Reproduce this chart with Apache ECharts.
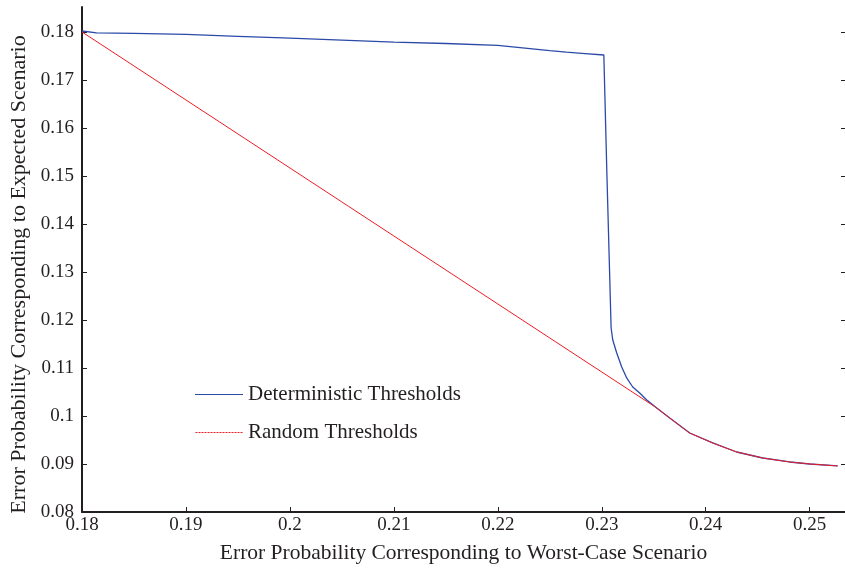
<!DOCTYPE html>
<html>
<head>
<meta charset="utf-8">
<script src="https://cdn.jsdelivr.net/npm/echarts@6/dist/echarts.min.js"></script>
<style>html,body{margin:0;padding:0;background:#fff}#c{width:845px;height:568px}</style>
</head>
<body>
<div id="c"></div>
<script>
var xTicks = [0.18, 0.19, 0.2, 0.21, 0.22, 0.23, 0.24, 0.25];
var yTicks = [0.08, 0.09, 0.1, 0.11, 0.12, 0.13, 0.14, 0.15, 0.16, 0.17, 0.18];

var detX = [0.18, 0.1814, 0.185, 0.19, 0.195, 0.20, 0.205, 0.21, 0.215, 0.22, 0.225, 0.2266, 0.2284, 0.2302, 0.2305, 0.2309, 0.23106, 0.23144, 0.23192, 0.2324, 0.23298, 0.23365, 0.23433, 0.23529, 0.23654, 0.23846, 0.24067, 0.24298, 0.24548, 0.24808, 0.25, 0.25269];
var detY = [0.1802, 0.1798, 0.1797, 0.1795, 0.1791, 0.1787, 0.1783, 0.1779, 0.1776, 0.1772, 0.1761, 0.1758, 0.1755, 0.1752, 0.150, 0.11833, 0.11583, 0.11313, 0.11021, 0.10792, 0.10604, 0.10479, 0.10333, 0.10167, 0.09958, 0.09646, 0.09438, 0.0925, 0.09125, 0.09042, 0.09000, 0.08960];

var rndX = [0.18, 0.2352, 0.23654, 0.23846, 0.24067, 0.24298, 0.24548, 0.24808, 0.25, 0.25269];
var rndY = [0.18, 0.1018, 0.09958, 0.09646, 0.09438, 0.0925, 0.09125, 0.09042, 0.09000, 0.08960];

var seriesNames = ['Deterministic Thresholds', 'Random Thresholds'];
var xTitle = 'Error Probability Corresponding to Worst-Case Scenario';
var yTitle = 'Error Probability Corresponding to Expected Scenario';

function pairs(xs, ys) { return xs.map(function (x, i) { return [x, ys[i]]; }); }

var font = 'Liberation Serif';
var ink = '#231f20';
var blue = '#2b4aa8', red = '#ee1c25';
var solidIcon = 'path://M0,0L48,0L48,1.2L0,1.2Z';
var dashIcon = 'path://' + (function () {
  var s = '';
  for (var i = 0; i < 48; i += 3) { s += 'M' + i + ',0L' + (i + 2) + ',0L' + (i + 2) + ',1.2L' + i + ',1.2Z'; }
  return s;
})();

var chart = echarts.init(document.getElementById('c'), null, {renderer: 'canvas'});
chart.setOption({
  animation: false,
  backgroundColor: '#fff',
  textStyle: {fontFamily: font},
  grid: {left: 82, right: 0, top: 7, bottom: 56, containLabel: false, outerBoundsMode: 'none'},
  legend: {
    show: true, orient: 'vertical', left: 190, top: 379, itemWidth: 48, itemHeight: 1.2, itemGap: 17,
    textStyle: {fontFamily: font, fontSize: 21, color: ink},
    data: [
      {name: seriesNames[0], icon: solidIcon},
      {name: seriesNames[1], icon: dashIcon}
    ]
  },
  xAxis: {
    type: 'value', min: 0.18, max: 0.2534,
    name: xTitle, nameLocation: 'middle', nameGap: 30,
    nameTextStyle: {fontFamily: font, fontSize: 21.5, color: ink},
    axisLine: {lineStyle: {color: ink, width: 2}},
    axisTick: {inside: true, length: 5, customValues: xTicks, lineStyle: {color: ink, width: 1}},
    axisLabel: {customValues: xTicks, margin: 4, fontFamily: font, fontSize: 19, color: ink,
      formatter: function (v) { return String(+v.toFixed(2)); }},
    splitLine: {show: false}
  },
  yAxis: [{
    type: 'value', min: 0.08, max: 0.1852,
    name: yTitle, nameLocation: 'middle', nameGap: 51,
    nameTextStyle: {fontFamily: font, fontSize: 22, color: ink, padding: [0, 30, 0, 0]},
    axisLine: {lineStyle: {color: ink, width: 2}},
    axisTick: {inside: true, length: 5, customValues: yTicks, lineStyle: {color: ink, width: 1}},
    axisLabel: {customValues: yTicks, margin: 8, fontFamily: font, fontSize: 19, color: ink,
      formatter: function (v) { return String(+v.toFixed(2)); }},
    splitLine: {show: false}
  }, {
    type: 'value', min: 0.08, max: 0.1852, position: 'right',
    axisLine: {show: false},
    axisTick: {show: true, inside: true, length: 4, customValues: yTicks, lineStyle: {color: ink, width: 1}},
    axisLabel: {show: false},
    splitLine: {show: false}
  }],
  series: [
    {name: seriesNames[0], type: 'line', data: pairs(detX, detY), showSymbol: false, symbol: 'none',
      lineStyle: {color: blue, width: 1.3}, itemStyle: {color: blue}, z: 2},
    {name: seriesNames[1], type: 'line', data: pairs(rndX, rndY), showSymbol: false, symbol: 'none',
      lineStyle: {color: red, width: 1}, itemStyle: {color: red}, z: 3}
  ]
});
</script>
</body>
</html>
